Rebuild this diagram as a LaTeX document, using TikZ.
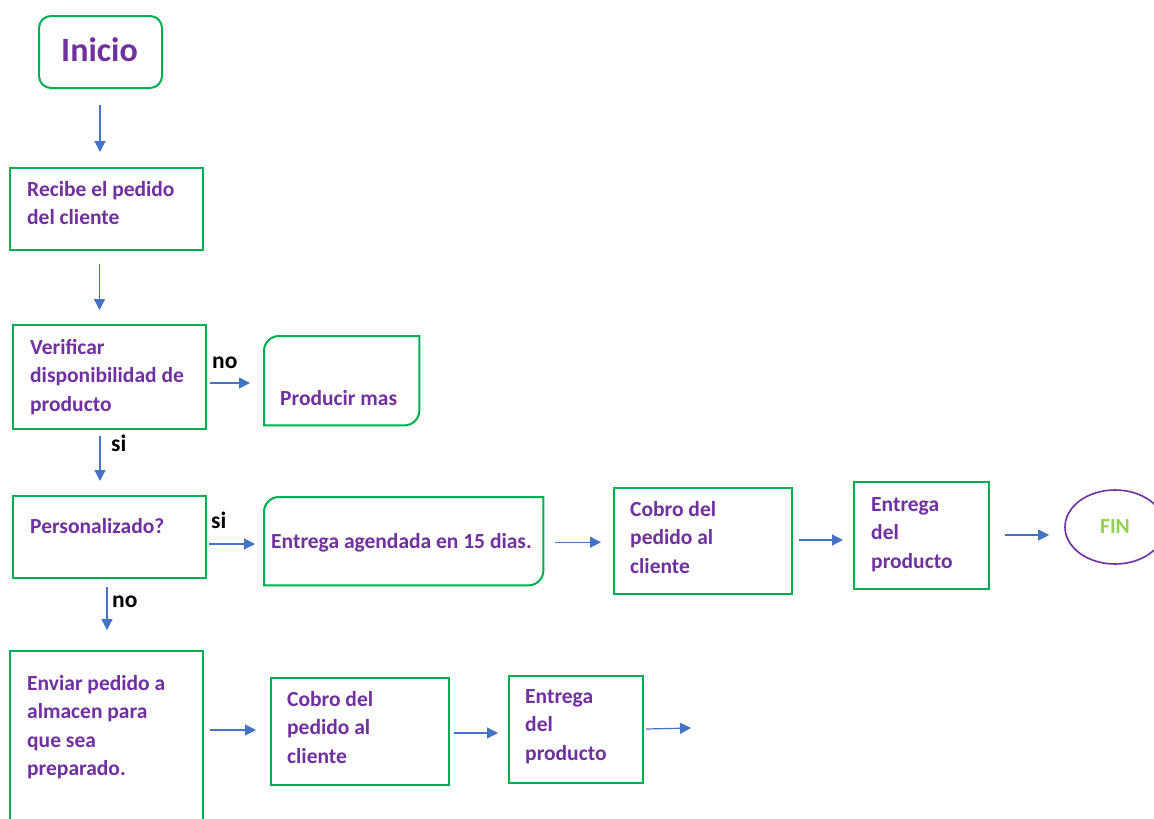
\documentclass[tikz,border=0pt]{standalone}
\usepackage{fontspec}
\setmainfont{Carlito}
\usetikzlibrary{shapes.geometric,arrows.meta,calc}
\definecolor{grn}{RGB}{0,176,80}
\definecolor{purp}{RGB}{112,48,160}
\definecolor{blu}{RGB}{68,114,196}
\definecolor{lgrn}{RGB}{146,208,80}
\newcommand{\mytxt}[1]{\begin{tabular}[t]{@{}l@{}}#1\end{tabular}}
\begin{document}
\begin{tikzpicture}[x=1pt,y=1pt,
  box/.style={draw=grn, line width=2pt, anchor=north west, inner sep=0pt},
  txt/.style={anchor=base west, inner sep=0pt, text=purp, font=\bfseries\fontsize{21.5}{28.5}\selectfont},
  lab/.style={anchor=base west, inner sep=0pt, text=black, font=\bfseries\fontsize{23.5}{28.5}\selectfont},
  arr/.style={draw=blu, line width=1.2pt, -{Triangle[length=11pt,width=11pt]}},
  rbox/.style={draw=grn, line width=2pt}]
\useasboundingbox (0,0) rectangle (1154,-819);
\fill[white] (0,0) rectangle (1154,-819);

% boxes
\node[box, rounded corners=12pt, minimum width=123pt, minimum height=72pt] (inicio) at (38,-15) {};
\node[box, minimum width=193pt, minimum height=82pt] (recibe) at (9,-167) {};
\node[box, minimum width=193pt, minimum height=104pt] (ver) at (12,-324) {};
\node[anchor=north west, inner sep=0pt, minimum width=155pt, minimum height=89pt] (prod) at (264,-336) {};
\draw[rbox] ([yshift=-15pt]prod.north west) arc[start angle=180,end angle=90,radius=15pt] -- (prod.north east) -- ([yshift=15pt]prod.south east) arc[start angle=0,end angle=-90,radius=15pt] -- (prod.south west) -- cycle;
\node[box, minimum width=193pt, minimum height=82pt] (pers) at (12,-495) {};
\node[anchor=north west, inner sep=0pt, minimum width=279pt, minimum height=88pt] (agen) at (264,-497) {};
\draw[rbox] ([yshift=-15pt]agen.north west) arc[start angle=180,end angle=90,radius=15pt] -- (agen.north east) -- ([yshift=15pt]agen.south east) arc[start angle=0,end angle=-90,radius=15pt] -- (agen.south west) -- cycle;
\node[box, minimum width=178pt, minimum height=106pt] (cobro) at (613,-487) {};
\node[box, minimum width=135pt, minimum height=107pt] (ent) at (853,-481) {};
\node[ellipse, draw=purp, line width=1.6pt, minimum width=100pt, minimum height=74pt, inner sep=0pt] (fin) at (1115,-527) {};
\node[box, minimum width=193pt, minimum height=200pt] (env) at (9,-650) {};
\node[box, minimum width=178pt, minimum height=107pt] (cobrob) at (270,-677) {};
\node[box, minimum width=134pt, minimum height=107pt] (entb) at (508,-675) {};

% texts
\node[anchor=center, inner sep=0pt, text=purp, font=\bfseries\fontsize{34}{40}\selectfont] (tinicio) at (99.5,-50) {Inicio};
\node[txt] (trecibe) at (27,-196) {\mytxt{Recibe el pedido\\del cliente}};
\node[txt] (tver) at (30,-354) {\mytxt{Verificar\\disponibilidad de\\producto}};
\node[txt] (tprod) at (280,-405) {Producir mas};
\node[txt] (tpers) at (30,-533) {Personalizado?};
\node[txt] (tagen) at (271,-548) {Entrega agendada en 15 dias.};
\node[txt] (tcobro) at (630,-516) {\mytxt{Cobro del\\pedido al\\cliente}};
\node[txt] (tent) at (871,-511) {\mytxt{Entrega\\del\\producto}};
\node[anchor=center, inner sep=0pt, text=lgrn, font=\bfseries\fontsize{21.5}{28.5}\selectfont] (tfin) at (fin.center) {FIN};
\node[txt] (tenv) at (27,-690) {\mytxt{Enviar pedido a\\almacen para\\que sea\\preparado.}};
\node[txt] (tcobrob) at (287,-706) {\mytxt{Cobro del\\pedido al\\cliente}};
\node[txt] (tentb) at (525,-703) {\mytxt{Entrega\\del\\producto}};

% labels
\node[lab] (lno1) at (212,-368) {no};
\node[lab] (lsi1) at (111,-451) {si};
\node[lab] (lsi2) at (211,-528) {si};
\node[lab] (lno2) at (112,-607) {no};

% arrows
\coordinate (endfree) at (691,-728);
\draw[arr] ($(inicio.south)+(-0.5,-16)$) -- ($(inicio.south |- recibe.north)+(-0.5,15)$);
\draw[arr] ($(recibe.south)+(-7,-13)$) -- ($(recibe.south |- ver.north)+(-7,14)$);
\draw[arr] ($(ver.east)+(3,-6)$) -- ($(ver.east -| prod.west)+(-14,-6)$);
\draw[arr] ($(ver.south)+(-9.5,-6)$) -- ($(ver.south |- pers.north)+(-9.5,14)$);
\draw[arr] ($(pers.east)+(2,-7)$) -- ($(pers.east -| agen.west)+(-9,-7)$);
\draw[arr] ($(agen.east)+(12,-1)$) -- ($(agen.east -| cobro.west)+(-12,-1)$);
\draw[arr] ($(cobro.east)+(6,1)$) -- ($(cobro.east -| ent.west)+(-10,1)$);
\draw[arr] ($(ent.east)+(15,0.5)$) -- ($(ent.east -| fin.west)+(-15,0.5)$);
\draw[arr] ($(pers.south)+(-2.5,-8)$) -- ($(pers.south |- env.north)+(-2.5,20)$);
\draw[arr] ($(env.east |- cobrob.west)+(6,1.5)$) -- ($(cobrob.west)+(-14,1.5)$);
\draw[arr] ($(cobrob.east)+(4,-1.5)$) -- ($(cobrob.east -| entb.west)+(-10,-1.5)$);
\draw[arr] ($(entb.east)+(2,0.5)$) -- (endfree);
\end{tikzpicture}
\end{document}
